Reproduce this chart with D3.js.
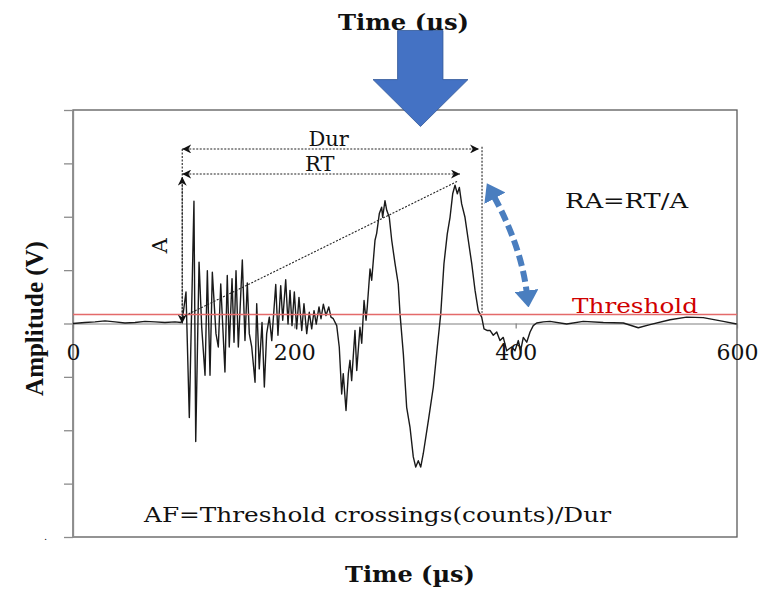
<!DOCTYPE html>
<html lang="en">
<head>
<meta charset="utf-8">
<title>AE waveform parameters</title>
<script src="https://d3js.org/d3.v7.min.js"></script>
<style>
  body { margin: 0; background: #fff; }
  svg text { font-family: "DejaVu Serif", serif; fill: #111; }
</style>
</head>
<body>
<svg id="chart"></svg>
<script>

// waveform: time (us) and amplitude (V)
const time = [0, 10.8, 19.9, 28.9, 38.0, 47.0, 56.0, 65.1, 74.1, 83.1, 92.2, 97.6,
    98.8, 102.1, 105.1, 109.3, 110.9, 113.9, 116.3, 119.3, 121.4, 123.8, 125.9, 129.2,
    131.3, 133.5, 137.3, 139.4, 141.2, 143.7, 145.5, 147.3, 149.4, 153.0, 155.4, 157.5,
    159.3, 161.5, 164.5, 166.0, 168.3, 170.8, 172.9, 175.0, 177.4, 179.6, 183.2, 185.2,
    187.7, 189.5, 192.2, 194.3, 196.1, 197.9, 200.0, 202.1, 204.2, 206.7, 208.7, 211.2,
    213.5, 215.7, 217.8, 219.8, 222.3, 224.1, 226.2, 228.6, 231.1, 233.1, 235.2, 238.3,
    240.6, 242.8, 244.2, 246.7, 248.8, 250.3, 251.8, 254.8, 256.4, 259.3, 260.9, 263.0,
    264.8, 265.9, 268.4, 269.9, 272.9, 274.4, 276.8, 278.9, 279.8, 281.9, 283.5, 285.8,
    288.0, 291.0, 293.9, 295.5, 298.5, 301.5, 304.5, 307.5, 309.7, 312.0, 314.2, 316.5,
    321.1, 325.6, 329.2, 332.3, 335.2, 338.2, 340.7, 343.1, 345.2, 347.3, 349.1, 351.2,
    354.2, 357.2, 360.3, 363.3, 366.2, 369.3, 371.4, 374.1, 376.8, 379.8, 382.9, 385.8,
    388.8, 391.9, 396.4, 399.4, 402.4, 404.5, 406.9, 410.0, 413.0, 415.9, 419.0, 425.0,
    431.0, 446.1, 461.1, 479.2, 497.3, 510.8, 521.4, 539.5, 554.5, 569.5, 587.6, 599.7];

const amplitude = [0, 0.02, 0.03, 0.05, 0.03, 0.01, 0.02, 0.04, 0.03, 0.02, 0.03, 0.02,
    0.07, 0.59, -1.76, 2.29, -2.21, 1.15, -0.07, -0.97, 0.99, -0.97, 0.96, -0.19,
    -0.44, 0.74, -0.91, 0.90, -0.44, 0.84, -0.35, 0.99, -0.44, 1.19, -0.32, 0.76,
    -0.19, -0.44, -1.10, 0.37, -0.85, 0.02, -1.19, -0.19, 0.12, -0.32, 0.73, -0.22,
    0.71, 0.06, 0.82, -0.01, 0.62, -0.04, 0.59, -0.10, 0.49, -0.13, 0.37, -0.19,
    0.21, -0.10, 0.24, -0.01, 0.31, 0.09, 0.36, 0.15, 0.31, 0.12, 0.09, -0.04,
    -0.44, -1.32, -0.94, -1.63, -0.94, -0.69, -1.07, -0.13, -0.88, -0.07, -0.37, 0.43,
    0.06, 0.31, 1.02, 0.81, 1.56, 1.69, 2.06, 2.18, 1.99, 2.30, 2.12, 1.99,
    1.56, 1.12, 0.74, 0.18, -0.57, -1.57, -1.94, -2.50, -2.69, -2.57, -2.69, -2.44,
    -1.82, -1.19, -0.44, 0.18, 1.12, 1.68, 1.99, 2.43, 2.59, 2.43, 2.55, 2.24,
    1.99, 1.56, 1.12, 0.62, 0.24, 0.12, -0.10, -0.13, -0.13, -0.22, -0.16, -0.32,
    -0.26, -0.51, -0.44, -0.51, -0.32, -0.51, -0.26, -0.35, -0.16, -0.04, 0.01, 0.03,
    0.04, -0.01, 0.04, 0.02, 0.01, -0.08, -0.02, 0.07, 0.12, 0.11, 0.04, -0.01];

const threshold = 0.17;
const xTicks = [0, 200, 400, 600];
const yTicks = [-4, -3, -2, -1, 0, 1, 2, 3, 4];

// hit parameters (us / V)
const onset = 98.7, peakTime = 349.7, durEnd = 369.6;
const durLevel = 3.27, rtLevel = 2.80, peakAmp = 2.75;

let width = 765, height = 589,
    margin = {top: 110, right: 28, bottom: 52, left: 73};

let svg = d3.select("#chart").attr("width", width).attr("height", height);

let x = d3.scaleLinear().domain([0, 600]).range([margin.left, width - margin.right]);
let y = d3.scaleLinear().domain([-4, 4]).range([height - margin.bottom, margin.top]);

let defs = svg.append("defs");
defs.append("marker").attr("id", "stealth")
    .attr("viewBox", "0 -5 10 10").attr("refX", 10).attr("refY", 0)
    .attr("markerWidth", 9).attr("markerHeight", 9)
    .attr("markerUnits", "userSpaceOnUse").attr("orient", "auto-start-reverse")
  .append("path").attr("d", "M0,-5L10,0L0,5L3,0Z").attr("fill", "#111");
defs.append("marker").attr("id", "blueHead")
    .attr("viewBox", "0 -12 17 24").attr("refX", 2).attr("refY", 0)
    .attr("markerWidth", 17).attr("markerHeight", 24)
    .attr("markerUnits", "userSpaceOnUse").attr("orient", "auto-start-reverse")
  .append("path").attr("d", "M0,-12L17,0L0,12Z").attr("fill", "#4a7ebf");

// titles
svg.append("text").attr("x", 338).attr("y", 30)
    .attr("font-size", 23).attr("font-weight", "bold")
    .attr("textLength", 131).attr("lengthAdjust", "spacingAndGlyphs").text("Time (µs)");
svg.append("text").attr("x", 345).attr("y", 582)
    .attr("font-size", 23).attr("font-weight", "bold")
    .attr("textLength", 130).attr("lengthAdjust", "spacingAndGlyphs").text("Time (µs)");
svg.append("text")
    .attr("transform", `translate(43,${y(0) - 5}) rotate(-90)`)
    .attr("text-anchor", "middle")
    .style("font-family", "'Liberation Serif', serif")
    .attr("font-size", 25).attr("font-weight", "bold").text("Amplitude (V)");
svg.append("text").attr("x", 44).attr("y", 540).attr("font-size", 10).text(".");

// frame
svg.append("rect")
    .attr("x", x(0)).attr("y", y(4))
    .attr("width", x(600) - x(0)).attr("height", y(-4) - y(4))
    .attr("fill", "none").attr("stroke", "#5a5a5a").attr("stroke-width", 1.3);

// y axis, ticks only
let yAxis = svg.append("g").attr("transform", `translate(${x(0)},0)`)
    .call(d3.axisLeft(y).tickValues(yTicks).tickSize(9).tickSizeOuter(0).tickFormat(""));
yAxis.selectAll("line, path").attr("stroke", "#8c8c8c").attr("stroke-width", 1.3);

// x axis on zero line
let xAxis = svg.append("g").attr("transform", `translate(0,${y(0)})`)
    .call(d3.axisBottom(x).tickValues(xTicks).tickSize(5).tickSizeOuter(0).tickPadding(16));
xAxis.selectAll("line, path").attr("stroke", "#808080").attr("stroke-width", 1.2);
xAxis.selectAll("text").attr("font-size", 22).attr("fill", "#111")
    .style("font-family", "'DejaVu Serif', serif");

// waveform
let line = d3.line().x((d, i) => x(time[i])).y(d => y(d));
svg.append("path").datum(amplitude)
    .attr("d", line)
    .attr("fill", "none").attr("stroke", "#1a1a1a").attr("stroke-width", 1.4)
    .attr("stroke-linejoin", "round");

// threshold
svg.append("line")
    .attr("x1", x(0)).attr("x2", x(600)).attr("y1", y(threshold)).attr("y2", y(threshold))
    .attr("stroke", "#e46a6a").attr("stroke-width", 1.5);
svg.append("text").attr("x", 572).attr("y", y(threshold) - 1)
    .attr("font-size", 20).attr("textLength", 126).attr("lengthAdjust", "spacingAndGlyphs")
    .style("fill", "#d00000").text("Threshold");

// dotted annotation lines
let dots = svg.append("g").attr("stroke", "#222").attr("stroke-width", 1.1)
    .attr("stroke-dasharray", "2,1.5").attr("fill", "none");
dots.append("line").attr("x1", x(onset)).attr("x2", x(onset))
    .attr("y1", y(durLevel)).attr("y2", y(0.02));
dots.append("line").attr("x1", x(durEnd)).attr("x2", x(durEnd))
    .attr("y1", y(durLevel + 0.04)).attr("y2", y(0.2));
dots.append("line").attr("x1", x(onset)).attr("x2", x(durEnd) - 3)
    .attr("y1", y(durLevel)).attr("y2", y(durLevel))
    .attr("marker-start", "url(#stealth)").attr("marker-end", "url(#stealth)");
dots.append("line").attr("x1", x(onset)).attr("x2", x(peakTime))
    .attr("y1", y(rtLevel)).attr("y2", y(rtLevel))
    .attr("marker-start", "url(#stealth)").attr("marker-end", "url(#stealth)");
dots.append("line").attr("x1", x(onset)).attr("x2", x(onset))
    .attr("y1", y(0)).attr("y2", y(peakAmp))
    .attr("marker-start", "url(#stealth)").attr("marker-end", "url(#stealth)");
dots.append("line").attr("x1", x(onset)).attr("x2", x(347))
    .attr("y1", y(0.12)).attr("y2", y(2.66));

svg.append("text").attr("x", x(231)).attr("y", y(durLevel) - 3)
    .attr("text-anchor", "middle").attr("font-size", 21).text("Dur");
svg.append("text").attr("x", x(223)).attr("y", y(rtLevel) - 3)
    .attr("text-anchor", "middle").attr("font-size", 21).text("RT");
svg.append("text")
    .attr("transform", `translate(${x(onset) - 15},${y(1.46)}) rotate(-90)`)
    .attr("text-anchor", "middle").attr("font-size", 21).text("A");

svg.append("text").attr("x", 565).attr("y", 208)
    .attr("font-size", 21).attr("textLength", 123).attr("lengthAdjust", "spacingAndGlyphs")
    .text("RA=RT/A");
svg.append("text").attr("x", 144).attr("y", 522)
    .attr("font-size", 20).attr("textLength", 467).attr("lengthAdjust", "spacingAndGlyphs")
    .text("AF=Threshold crossings(counts)/Dur");

// curved blue double arrow
let p0 = [x(380.4), y(2.38)], c = [x(405.0), y(1.44)], p2 = [x(410.0), y(0.58)];
svg.append("path")
    .attr("d", `M${p0}Q${c} ${p2}`)
    .attr("fill", "none").attr("stroke", "#4a7ebf").attr("stroke-width", 6)
    .attr("stroke-dasharray", "11,5")
    .attr("marker-start", "url(#blueHead)").attr("marker-end", "url(#blueHead)");

// big down arrow
let ax = [271.1, 293.3, 334.3, 356.9, 314.0].map(x);
let ay = [5.49, 4.57, 3.69].map(y);
svg.append("path")
    .attr("d", `M${ax[1]},${ay[0]}H${ax[2]}V${ay[1]}H${ax[3]}L${ax[4]},${ay[2]}L${ax[0]},${ay[1]}H${ax[1]}Z`)
    .attr("fill", "#4472c4").attr("stroke", "#2f5597").attr("stroke-width", 0.8);

</script>
</body>
</html>
